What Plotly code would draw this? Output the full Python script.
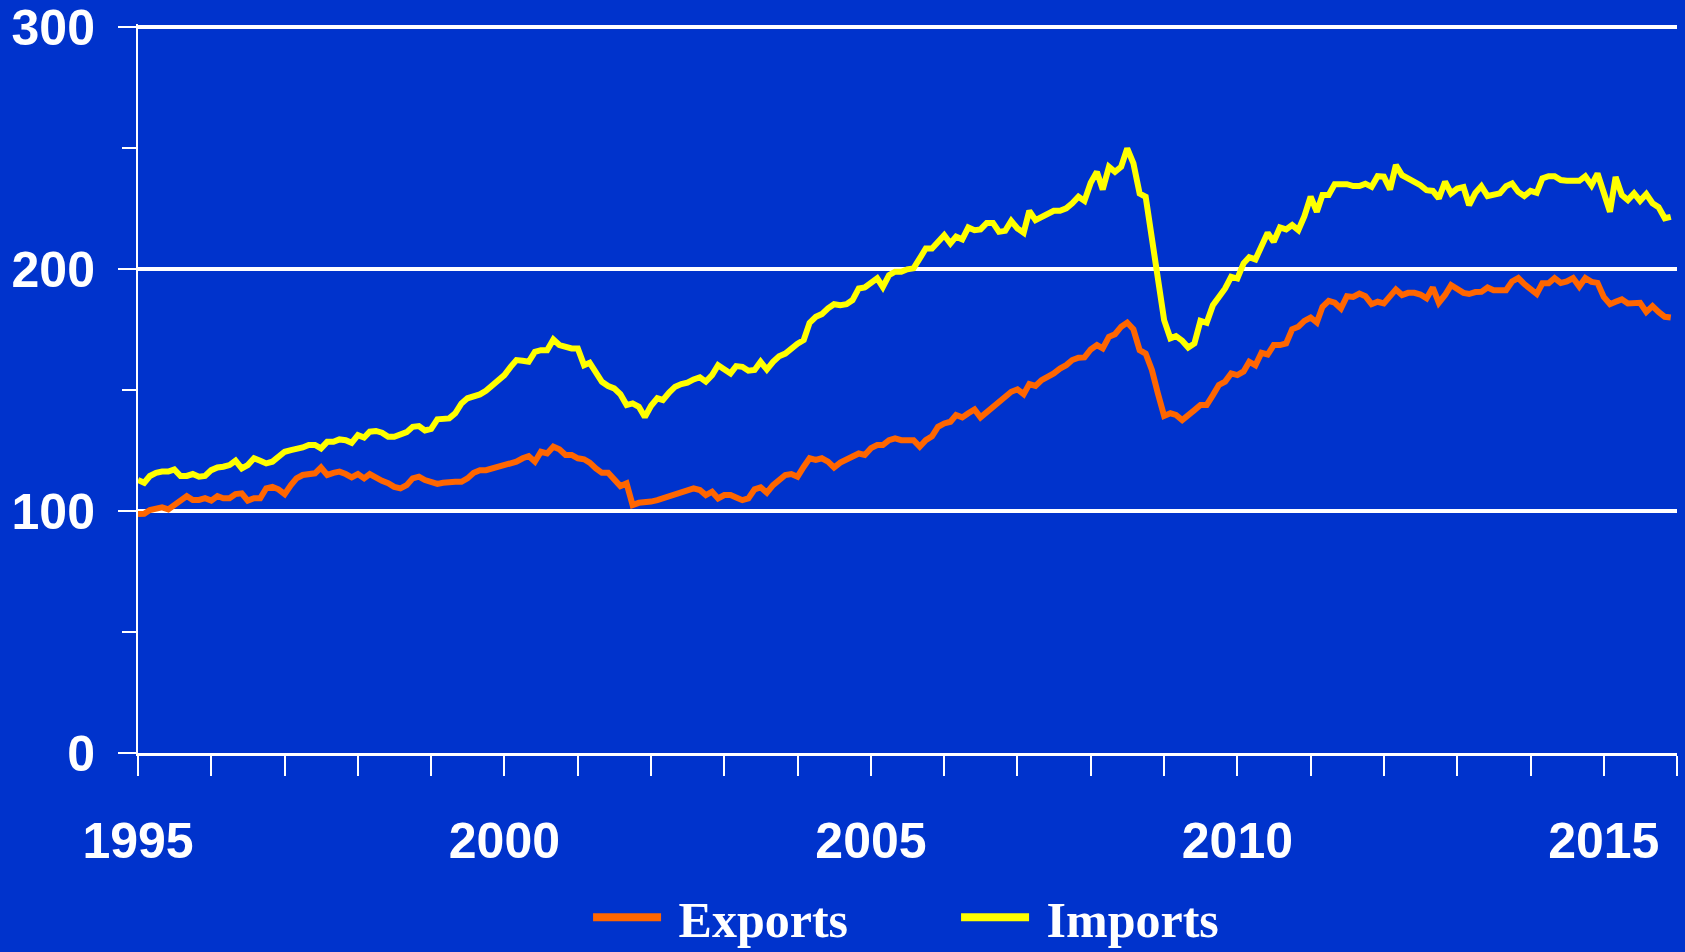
import pandas as pd
import plotly.graph_objects as go

# Monthly index values, Jan 1995 .. Dec 2015
start_month = "1995-01-01"

exports = [
    98.8, 98.9, 100.4, 100.7, 101.5, 100.7, 102.5, 104.3, 106.2, 104.6, 104.6, 105.3,
    104.3, 106.2, 105.3, 105.3, 107.0, 107.3, 104.3, 105.3, 105.3, 109.4, 110.0, 109.0,
    107.0, 110.7, 113.5, 114.9, 115.3, 115.6, 118.0, 114.9, 115.8, 116.3, 115.3, 113.9,
    115.3, 113.5, 115.3, 113.5, 112.5, 111.5, 110.0, 109.4, 110.7, 113.5, 114.2, 112.8,
    112.1, 111.2, 111.7, 112.1, 112.1, 112.1, 113.5, 115.8, 116.9, 116.9, 117.6, 118.6,
    119.0, 119.7, 120.4, 121.8, 122.7, 120.4, 124.5, 123.8, 126.6, 125.5, 123.2, 123.2,
    121.8, 121.4, 120.0, 117.6, 115.8, 115.8, 113.5, 110.3, 111.4, 102.5, 103.4, 103.4,
    103.9, 104.5, 105.2, 106.6, 107.3, 108.0, 108.4, 109.4, 108.7, 106.6, 108.0, 105.2,
    106.6, 106.6, 105.6, 104.5, 105.2, 109.0, 109.8, 107.6, 110.7, 112.8, 114.9, 115.3,
    114.2, 118.3, 121.8, 121.1, 121.8, 120.4, 118.0, 120.0, 121.1, 122.5, 123.8, 123.2,
    126.0, 127.3, 127.3, 129.3, 130.0, 129.3, 129.3, 129.3, 126.6, 129.3, 130.9, 134.8,
    136.2, 136.9, 139.7, 138.7, 140.4, 142.0, 138.7, 141.0, 143.1, 145.6, 147.9, 149.3,
    150.3, 148.3, 152.5, 151.7, 154.1, 155.2, 156.9, 158.9, 160.3, 162.4, 163.4, 163.5,
    166.8, 168.6, 167.2, 172.0, 173.1, 176.2, 177.9, 175.1, 166.5, 165.1, 158.3, 148.6,
    139.3, 140.4, 139.7, 137.6, 139.3, 141.7, 143.8, 143.8, 147.9, 152.1, 153.5, 156.9,
    156.2, 157.7, 161.7, 160.2, 165.4, 164.7, 168.6, 168.6, 169.3, 175.1, 176.2, 178.6,
    180.0, 177.9, 184.4, 186.9, 186.1, 183.7, 188.8, 188.5, 189.9, 188.8, 185.5, 186.5,
    185.8, 188.5, 191.6, 189.3, 190.2, 190.2, 189.5, 187.9, 192.4, 186.1, 189.3, 193.4,
    191.6, 190.2, 189.7, 190.5, 190.6, 192.4, 191.3, 191.3, 191.3, 194.9, 196.3, 193.8,
    192.1, 189.7, 194.1, 194.1, 196.3, 194.3, 194.9, 196.3, 192.8, 196.3, 194.7, 194.3,
    188.5, 185.5, 186.5, 187.5, 185.8, 185.8, 186.1, 182.3, 184.7, 182.3, 180.3, 180.0,
]

imports = [
    112.8, 111.7, 114.5, 115.8, 116.3, 116.3, 117.2, 114.5, 114.5, 115.3, 114.2, 114.5,
    116.9, 118.0, 118.3, 119.0, 120.8, 117.6, 119.0, 121.8, 120.8, 119.7, 120.4, 122.7,
    124.5, 125.2, 125.5, 126.3, 127.3, 127.3, 125.9, 128.6, 128.6, 129.6, 129.3, 128.2,
    131.4, 130.4, 132.8, 133.1, 132.4, 130.7, 130.7, 131.4, 132.6, 134.8, 135.1, 133.3,
    134.0, 137.9, 137.9, 138.3, 140.4, 144.5, 146.6, 147.3, 148.2, 149.7, 152.1, 154.1,
    156.2, 159.6, 162.4, 162.1, 161.7, 165.8, 166.5, 166.5, 170.9, 168.6, 167.9, 167.2,
    167.2, 160.3, 161.3, 157.6, 153.4, 151.7, 150.7, 148.3, 143.8, 144.5, 143.1, 138.9,
    143.5, 146.6, 145.9, 149.0, 151.4, 152.5, 153.1, 154.4, 155.3, 153.5, 156.2, 160.3,
    158.3, 156.9, 159.9, 159.6, 158.0, 158.3, 161.7, 158.5, 161.7, 164.0, 165.1, 167.2,
    169.2, 170.7, 177.8, 180.3, 181.4, 183.8, 185.5, 185.1, 185.5, 187.2, 192.0, 192.4,
    194.1, 196.2, 192.6, 197.5, 198.9, 198.9, 199.9, 200.3, 204.4, 208.5, 208.5, 211.7,
    214.0, 210.6, 213.4, 212.3, 217.2, 216.1, 216.4, 219.1, 219.1, 215.4, 215.8, 219.9,
    216.8, 215.0, 224.1, 220.2, 221.3, 223.0, 224.1, 224.1, 225.1, 227.2, 229.9, 228.2,
    235.7, 240.2, 232.9, 242.3, 240.2, 242.3, 249.9, 243.7, 231.2, 229.9, 211.3, 193.4,
    178.9, 171.4, 172.3, 170.4, 167.6, 169.3, 178.6, 177.8, 185.1, 188.5, 192.0, 196.8,
    196.1, 202.4, 204.9, 204.0, 209.9, 215.0, 211.3, 217.2, 216.4, 218.2, 216.1, 221.9,
    229.9, 223.7, 230.6, 230.6, 235.1, 235.3, 235.1, 234.3, 234.3, 235.3, 234.0, 238.4,
    238.2, 232.9, 243.0, 238.8, 237.5, 235.7, 234.7, 232.6, 232.3, 229.2, 236.1, 231.3,
    233.3, 233.9, 226.4, 231.5, 234.3, 230.2, 231.0, 231.3, 234.3, 235.4, 231.9, 230.2,
    232.3, 231.5, 237.5, 238.4, 238.4, 236.8, 236.5, 236.5, 236.5, 238.4, 234.7, 239.5,
    231.3, 223.7, 238.1, 230.6, 228.5, 231.3, 228.2, 231.0, 227.2, 225.6, 221.0, 221.6,
]

year_ticks = list(range(1995, 2017))
labelled_years = [1995, 2000, 2005, 2010, 2015]
y_major = [0, 100, 200, 300]

dates = pd.date_range(start=start_month, periods=len(exports), freq="MS")

BG = "#0033CC"
ORANGE = "#FF6600"
YELLOW = "#FFFF00"
fig = go.Figure()
fig.add_trace(go.Scatter(x=dates, y=exports, mode="lines", name="Exports",
                         legendgroup="exp", showlegend=False,
                         line=dict(color=ORANGE, width=6)))
fig.add_trace(go.Scatter(x=dates, y=imports, mode="lines", name="Imports",
                         legendgroup="imp", showlegend=False,
                         line=dict(color=YELLOW, width=6)))
# legend entries (thicker legend keys, as in the original)
fig.add_trace(go.Scatter(x=[None], y=[None], mode="lines", name="\u00a0Exports",
                         legendgroup="exp", line=dict(color=ORANGE, width=8)))
fig.add_trace(go.Scatter(x=[None], y=[None], mode="lines", name="\u00a0Imports",
                         legendgroup="imp", line=dict(color=YELLOW, width=8)))

tickvals = [f"{y}-01-01" for y in year_ticks]
ticktext = [str(y) if y in labelled_years else "" for y in year_ticks]

fig.update_layout(
    width=1685, height=952,
    paper_bgcolor=BG, plot_bgcolor=BG,
    margin=dict(l=138, r=8, t=24, b=199, autoexpand=False),
    showlegend=True,
    legend=dict(orientation="h", xref="container", yref="container",
                x=0.349, xanchor="left", y=0.0365, yanchor="middle",
                font=dict(family="Liberation Serif", size=50, color="white", weight="bold"),
                bgcolor="rgba(0,0,0,0)", itemwidth=68, entrywidth=285, tracegroupgap=0),
    xaxis=dict(type="date", range=["1995-01-01", "2016-01-01"], automargin=False,
               tickmode="array", tickvals=tickvals, ticktext=ticktext,
               ticks="outside", ticklen=20, tickwidth=2, tickcolor="white",
               showline=True, linecolor="white", linewidth=2.5,
               showgrid=False, zeroline=False,
               ticklabelstandoff=22,
               tickfont=dict(family="Liberation Sans", size=50, color="white", weight="bold")),
    yaxis=dict(range=[0, 301.3], automargin=False, tickmode="array", tickvals=y_major,
               ticktext=[str(v) for v in y_major],
               ticks="outside", ticklen=18, tickwidth=2, tickcolor="white",
               minor=dict(dtick=50, ticks="outside", ticklen=14, tickwidth=2,
                          tickcolor="white", showgrid=False),
               showline=True, linecolor="white", linewidth=2,
               showgrid=True, gridcolor="white", gridwidth=4,
               zeroline=False, ticklabelstandoff=13, ticklabeloverflow="allow",
               tickfont=dict(family="Liberation Sans", size=50, color="white", weight="bold")),
)

fig.write_html("out.html", config={"displayModeBar": False},
               post_script="document.body.style.margin='0';document.body.style.background='#0033CC';")
